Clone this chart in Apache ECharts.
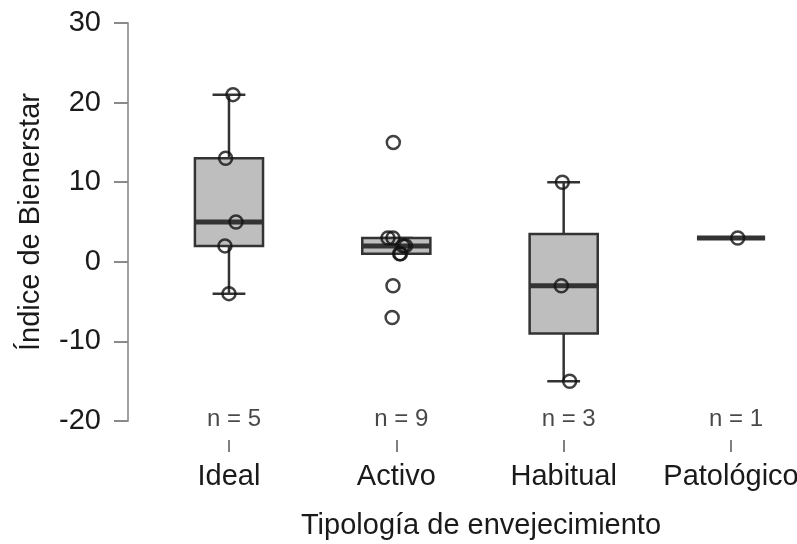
<!DOCTYPE html>
<html>
<head>
<meta charset="utf-8">
<script src="https://cdn.jsdelivr.net/npm/echarts@6/dist/echarts.min.js"></script>
<style>html,body{margin:0;padding:0;background:#fff}#c{width:797px;height:544px}</style>
</head>
<body>
<div id="c"></div>
<script>
// ---- data ----
var categories = ['Ideal', 'Activo', 'Habitual', 'Patológico'];
var nLabels = ['n = 5', 'n = 9', 'n = 3', 'n = 1'];
var yTicks = [-20, -10, 0, 10, 20, 30];
// [whiskerLow, Q1, median, Q3, whiskerHigh]
var boxIdeal = [-4, 2, 5, 13, 21];
var boxActivo = [1, 1, 2, 3, 3];
var boxHabitual = [-15, -9, -3, 3.5, 10];
var boxPatologico = [3, 3, 3, 3, 3];
// raw points and their horizontal jitter (category units)
var ptsIdeal = [21, 13, 5, 2, -4];
var jitIdeal = [0.024, -0.02, 0.042, -0.024, 0.0];
var ptsActivo = [15, 3, 3, 2, 2, 1, 1, -3, -7];
var jitActivo = [-0.018, -0.05, -0.02, 0.04, 0.055, 0.02, 0.025, -0.02, -0.025];
var ptsHabitual = [10, -3, -15];
var jitHabitual = [-0.008, -0.014, 0.036];
var ptsPatologico = [3];
var jitPatologico = [0.04];

var boxes = [boxIdeal, boxActivo, boxHabitual, boxPatologico];
var pts = [ptsIdeal, ptsActivo, ptsHabitual, ptsPatologico];
var jits = [jitIdeal, jitActivo, jitHabitual, jitPatologico];

var boxData = boxes.map(function (b, i) { return [i].concat(b); });
var pointData = [];
pts.forEach(function (arr, i) {
  arr.forEach(function (v, k) { pointData.push([i + jits[i][k], v]); });
});
var nData = nLabels.map(function (t, i) { return [i, -20, t]; });

var FONT = "'Liberation Sans', Arial, sans-serif";
var chart = echarts.init(document.getElementById('c'), null, {renderer: 'canvas'});

function renderBox(params, api) {
  var i = api.value(0);
  var bw = api.size([1, 0])[0];
  var half = bw * 0.2035, capHalf = bw * 0.098;
  var pWl = api.coord([i, api.value(1)]);
  var pQ1 = api.coord([i, api.value(2)]);
  var pMed = api.coord([i, api.value(3)]);
  var pQ3 = api.coord([i, api.value(4)]);
  var pWh = api.coord([i, api.value(5)]);
  var cx = pMed[0];
  var stroke = '#333333';
  var lw = 2.5;
  return {
    type: 'group',
    children: [
      {type: 'line', shape: {x1: cx, y1: pQ3[1], x2: cx, y2: pWh[1]}, style: {stroke: stroke, lineWidth: lw}},
      {type: 'line', shape: {x1: cx, y1: pQ1[1], x2: cx, y2: pWl[1]}, style: {stroke: stroke, lineWidth: lw}},
      {type: 'line', shape: {x1: cx - capHalf, y1: pWh[1], x2: cx + capHalf, y2: pWh[1]}, style: {stroke: stroke, lineWidth: lw}},
      {type: 'line', shape: {x1: cx - capHalf, y1: pWl[1], x2: cx + capHalf, y2: pWl[1]}, style: {stroke: stroke, lineWidth: lw}},
      {type: 'rect', shape: {x: cx - half, y: pQ3[1], width: 2 * half, height: pQ1[1] - pQ3[1]},
        style: {fill: '#bebebe', stroke: stroke, lineWidth: lw}},
      {type: 'line', shape: {x1: cx - half, y1: pMed[1], x2: cx + half, y2: pMed[1]}, style: {stroke: stroke, lineWidth: 5}}
    ]
  };
}

var option = {
  animation: false,
  backgroundColor: '#ffffff',
  grid: {left: 145.3, width: 669.4, top: 23, height: 398, containLabel: false, outerBoundsMode: 'none'},
  xAxis: [
    {
      type: 'category', data: categories, boundaryGap: true, position: 'bottom', offset: 19,
      axisLine: {show: false, onZero: false},
      axisTick: {show: true, interval: 0, alignWithLabel: true, length: 12, lineStyle: {color: '#555', width: 1.5}},
      axisLabel: {interval: 0, hideOverlap: false, margin: 22, fontSize: 29, color: '#1a1a1a', fontFamily: FONT},
      splitLine: {show: false}
    },
    {
      type: 'value', min: -0.5, max: 3.5, show: false, axisLine: {onZero: false}, splitLine: {show: false}
    }
  ],
  yAxis: {
    type: 'value', min: -20, max: 30, interval: 10, offset: 17.3,
    name: 'Índice de Bienerstar', nameLocation: 'middle', nameGap: 83,
    nameTextStyle: {fontSize: 29, color: '#1a1a1a', fontFamily: FONT},
    axisLine: {show: true, onZero: false, lineStyle: {color: '#a0a0a0', width: 2}},
    axisTick: {show: true, length: 14, lineStyle: {color: '#8a8a8a', width: 2}},
    axisLabel: {margin: 27, fontSize: 29, color: '#1a1a1a', fontFamily: FONT},
    splitLine: {show: false}
  },
  graphic: [{
    type: 'text', x: 481, y: 526,
    style: {text: 'Tipología de envejecimiento', fontSize: 29, fontFamily: FONT, fill: '#1a1a1a', align: 'center', verticalAlign: 'middle'}
  }],
  series: [
    {
      type: 'custom', xAxisIndex: 1, renderItem: renderBox, data: boxData,
      encode: {x: 0, y: [1, 2, 3, 4, 5]}, clip: false
    },
    {
      type: 'scatter', xAxisIndex: 1, data: pointData, symbol: 'circle', symbolSize: 13,
      itemStyle: {color: 'rgba(0,0,0,0)', borderColor: '#111', borderWidth: 2.5}, clip: false, z: 5
    },
    {
      type: 'scatter', xAxisIndex: 1, data: nData, symbolSize: 0, clip: false,
      label: {show: true, position: 'inside', offset: [5, -2], formatter: function (p) { return p.data[2]; },
        fontSize: 24, color: '#1a1a1a', fontFamily: FONT}
    }
  ]
};
chart.setOption(option);
</script>
</body>
</html>
